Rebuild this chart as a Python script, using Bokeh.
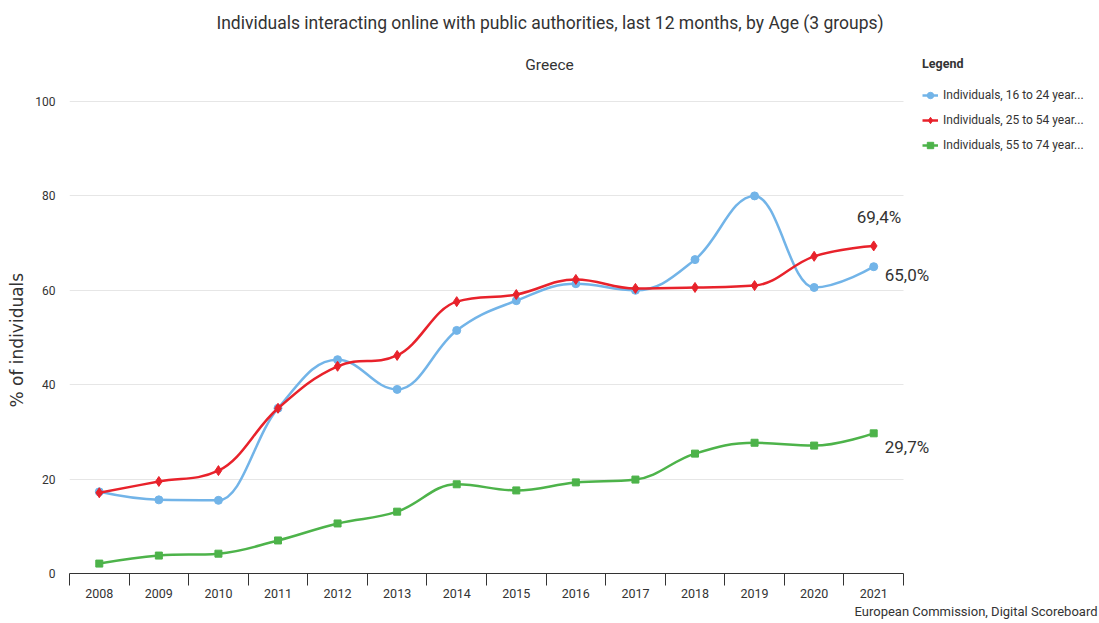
from bokeh.plotting import figure
from bokeh.models import FixedTicker, Label, Legend, LegendItem, Range1d, Title, BoxAnnotation
from bokeh.embed import file_html
from bokeh.resources import INLINE

years = ["2008", "2009", "2010", "2011", "2012", "2013", "2014",
         "2015", "2016", "2017", "2018", "2019", "2020", "2021"]
age_16_24 = [17.3, 15.6, 15.5, 35.0, 45.3, 39.0, 51.5, 57.8, 61.4, 60.0, 66.5, 80.0, 60.6, 65.0]
age_25_54 = [17.1, 19.5, 21.8, 35.0, 43.9, 46.2, 57.6, 59.1, 62.3, 60.4, 60.6, 61.0, 67.2, 69.4]
age_55_74 = [2.1, 3.8, 4.2, 7.0, 10.6, 13.1, 18.9, 17.6, 19.3, 19.9, 25.4, 27.7, 27.1, 29.7]
series_names = ["Individuals, 16 to 24 year...", "Individuals, 25 to 54 year...",
                "Individuals, 55 to 74 year..."]
y_ticks = [0, 20, 40, 60, 80, 100]
title_text = "Individuals interacting online with public authorities, last 12 months, by Age (3 groups)"
subtitle_text = "Greece"
credits_text = "European Commission, Digital Scoreboard"
y_label_text = "% of individuals"

FONT = "Roboto"
TXT = "#333333"


def spline_segments(ys):
    """Highcharts-style spline control points (smoothing 1.5)."""
    n = len(ys)
    xs = list(range(n))
    s, d = 1.5, 2.5
    left, right = [None] * n, [None] * n
    for i in range(n):
        x, y = xs[i], ys[i]
        if 0 < i < n - 1:
            lx, ly = xs[i - 1], ys[i - 1]
            nx, ny = xs[i + 1], ys[i + 1]
            lcx, lcy = (s * x + lx) / d, (s * y + ly) / d
            rcx, rcy = (s * x + nx) / d, (s * y + ny) / d
            corr = ((rcy - lcy) * (rcx - x)) / (rcx - lcx) + y - rcy
            lcy += corr
            rcy += corr
            if lcy > ly and lcy > y:
                lcy = max(ly, y); rcy = 2 * y - lcy
            elif lcy < ly and lcy < y:
                lcy = min(ly, y); rcy = 2 * y - lcy
            if rcy > ny and rcy > y:
                rcy = max(ny, y); lcy = 2 * y - rcy
            elif rcy < ny and rcy < y:
                rcy = min(ny, y); lcy = 2 * y - rcy
            left[i], right[i] = (lcx, lcy), (rcx, rcy)
        else:
            left[i], right[i] = (x, y), (x, y)
    seg = dict(x0=[], y0=[], x1=[], y1=[], cx0=[], cy0=[], cx1=[], cy1=[])
    for i in range(1, n):
        seg["x0"].append(xs[i - 1]); seg["y0"].append(ys[i - 1])
        seg["cx0"].append(right[i - 1][0]); seg["cy0"].append(right[i - 1][1])
        seg["cx1"].append(left[i][0]); seg["cy1"].append(left[i][1])
        seg["x1"].append(xs[i]); seg["y1"].append(ys[i])
    return seg


n = len(years)
W, H = 1099, 623
FL, FB = 69, 573           # frame left / bottom (px)
CAT_R, Y100 = 903, 101     # right end of category area, pixel row of 100 %
x_end = -0.5 + n * (W - FL) / (CAT_R - FL)
y_end = 100 * FB / (FB - Y100)

p = figure(width=W, height=H, output_backend="svg", toolbar_location=None,
           x_range=Range1d(-0.5, x_end), y_range=Range1d(0, y_end),
           min_border_left=FL, min_border_right=0, min_border_top=0, min_border_bottom=H - FB)
p.outline_line_color = None
p.xgrid.visible = False
p.ygrid.grid_line_color = "#e6e6e6"
p.ygrid.grid_line_width = 1
# keep the horizontal grid lines inside the category area
p.add_layout(BoxAnnotation(left=n - 0.5, fill_color="white", fill_alpha=1.0, line_alpha=0, level="underlay"))

idx = list(range(n))
p.xaxis.bounds = (-0.5, n - 0.5)
p.xaxis.ticker = FixedTicker(ticks=idx, minor_ticks=[i - 0.5 for i in range(n + 1)])
p.xaxis.major_label_overrides = {i: years[i] for i in idx}
p.xaxis.major_tick_out = 0
p.xaxis.major_tick_in = 0
p.xaxis.minor_tick_out = 12
p.xaxis.minor_tick_in = 0
p.xaxis.minor_tick_line_color = "#333333"
p.xaxis.axis_line_color = "#333333"
p.xaxis.major_label_standoff = 3
p.xaxis.major_label_text_font = FONT
p.xaxis.major_label_text_font_size = "12.5px"
p.xaxis.major_label_text_color = TXT

p.yaxis.ticker = FixedTicker(ticks=y_ticks)
p.yaxis.axis_line_color = None
p.yaxis.major_tick_out = 0
p.yaxis.major_tick_in = 0
p.yaxis.minor_tick_out = 0
p.yaxis.minor_tick_in = 0
p.yaxis.major_label_standoff = 14
p.yaxis.major_label_text_font = FONT
p.yaxis.major_label_text_font_size = "12px"
p.yaxis.major_label_text_color = TXT

p.add_layout(Title(text=y_label_text, align="left", offset=166, text_font="DejaVu Sans",
                   text_font_size="17px", text_font_style="normal", text_color=TXT,
                   vertical_align="middle", standoff=10), "left")

colors = ["#72b4e8", "#e8222b", "#4db34a"]
markers = ["circle", "diamond", "square"]
msizes = [8, 10, 7]
items = []
for vals, col, mk, ms, name in zip([age_16_24, age_25_54, age_55_74], colors, markers, msizes, series_names):
    seg = spline_segments(vals)
    br = p.bezier(line_color=col, line_width=2.5, **seg)
    sr = p.scatter(x=idx, y=vals, marker=mk, size=ms, fill_color=col, line_color=col)
    items.append(LegendItem(label=name, renderers=[br, sr]))

legend = Legend(items=items, location=(922 - FL, 418), title="Legend",
                title_text_font=FONT, title_text_font_style="bold", title_text_font_size="12.5px",
                title_text_color=TXT, title_standoff=14,
                label_text_font=FONT, label_text_font_size="12px", label_text_color=TXT,
                glyph_width=16, glyph_height=20, label_height=20, label_standoff=5, spacing=5,
                padding=0, margin=0, border_line_color=None, background_fill_alpha=0)
p.add_layout(legend)

# end-of-series value labels
last = n - 1
end_labels = [(age_25_54[last], -17, 29), (age_16_24[last], 11, -8), (age_55_74[last], 11, -14)]
for v, xo, yo in end_labels:
    p.add_layout(Label(x=last, y=v, x_offset=xo, y_offset=yo, text=f"{v:.1f}%".replace(".", ","),
                       text_align="left", text_baseline="middle", text_font=FONT,
                       text_font_size="17px", text_color=TXT))

p.add_layout(Label(x=549.5 - FL, y=FB - 22, x_units="screen", y_units="screen", text=title_text,
                   text_align="center", text_baseline="middle", text_font=FONT,
                   text_font_size="17.5px", text_color=TXT))
p.add_layout(Label(x=549 - FL, y=FB - 64, x_units="screen", y_units="screen", text=subtitle_text,
                   text_align="center", text_baseline="middle", text_font=FONT,
                   text_font_size="15.5px", text_color=TXT))
p.add_layout(Title(text=credits_text, align="right", offset=2, text_font=FONT,
                   text_font_size="13px", text_font_style="normal", text_color=TXT,
                   vertical_align="bottom", standoff=2), "below")

open("out.html", "w").write(file_html(p, INLINE))
